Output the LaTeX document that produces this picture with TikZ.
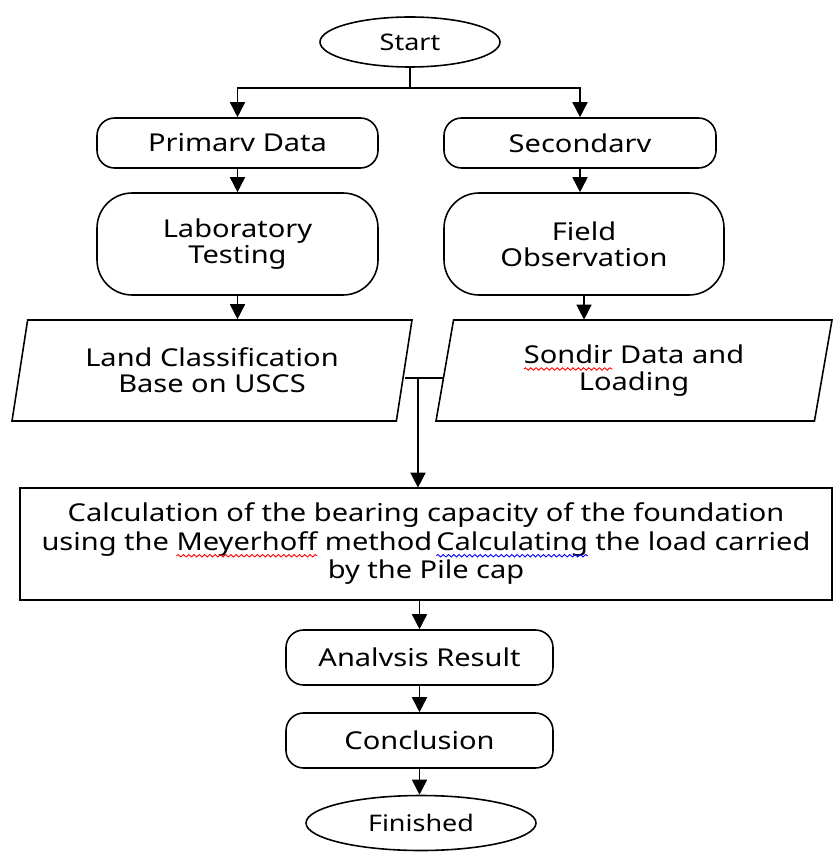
\documentclass[tikz,border=0pt]{standalone}
\usepackage{fontspec}
\setmainfont{Noto Sans}[FakeStretch=1.18]
\usetikzlibrary{shapes.geometric,arrows.meta,decorations.pathmorphing}
\newsavebox\wavybox
\newcommand\wavy[2]{\sbox\wavybox{#2}\rlap{\usebox\wavybox}\makebox[\wd\wavybox][l]{\raisebox{-3pt}{\tikz[overlay]\draw[#1,line width=0.5pt,decorate,decoration={snake,amplitude=0.7pt,segment length=3pt}] (0,0) -- (\wd\wavybox,0);}}}
\begin{document}
\begin{tikzpicture}[line width=0.9pt,>={Triangle[length=0.3cm,width=0.3cm]}]

\tikzstyle{myoval} = [draw,ellipse,inner sep=0,font=\fontsize{13}{15}\selectfont]
\tikzstyle{myround} = [draw,rounded corners=10,inner sep=2,align=center,font=\fontsize{14}{15}\selectfont]
\tikzstyle{mydata} = [draw,trapezium,trapezium left angle=71,trapezium right angle=109,trapezium stretches body,inner sep=0,align=center,font=\fontsize{14}{15}\selectfont]
\tikzstyle{mybox} = [draw,inner sep=2,align=center,font=\fontsize{14}{16.2}\selectfont]

\useasboundingbox (0,0) rectangle (16.68,-17.04);

\node [myoval,minimum width=3.6cm,minimum height=1.0cm] (start) at (8.2,-0.84) {Start};

\node [myround,minimum width=5.62cm,minimum height=1.0cm] (prim) at (4.75,-2.86) {Primarv Data};
\node [myround,minimum width=5.44cm,minimum height=1.0cm] (sec) at (11.6,-2.86) {Secondarv};

\node [myround,rounded corners=20,minimum width=5.62cm,minimum height=2.04cm] (lab) at (4.75,-4.88) {Laboratory\\Testing};
\node [myround,rounded corners=20,minimum width=5.6cm,minimum height=2.04cm] (field) at (11.68,-4.88) {Field\\Observation};

\node [mydata,minimum width=8.0cm,minimum height=2.02cm] (land) at (4.24,-7.41) {Land Classification\\Base on USCS};
\node [mydata,minimum width=7.92cm,minimum height=2.02cm] (sond) at (12.68,-7.41) {\wavy{red}{Sondir} Data and\\Loading};

\node [mybox,minimum width=16.24cm,minimum height=2.24cm] (calc) at (8.52,-10.88) {Calculation of the bearing capacity of the foundation\\using the \wavy{red}{Meyerhoff} method\,\wavy{blue}{Calculating} the load carried\\by the Pile cap};

\node [myround,minimum width=5.34cm,minimum height=1.1cm] (ana) at (8.39,-13.15) {Analvsis Result};
\node [myround,minimum width=5.34cm,minimum height=1.1cm] (conc) at (8.39,-14.81) {Conclusion};

\node [myoval,minimum width=4.6cm,minimum height=1.1cm] (fin) at (8.42,-16.46) {Finished};

\coordinate (br) at (8.2,-1.76);
\coordinate (j) at (8.36,-7.56);

\draw (start) -- (br);
\draw [->] (br) -| (prim);
\draw [->] (br) -| (sec);
\draw [->] (prim) -- (lab);
\draw [->] (sec) -- (sec |- lab.north);
\draw [->] (lab) -- (lab |- land.north);
\draw [->] (field) -- (field |- sond.north);
\draw (j -| land.east) -- (j -| sond.west);
\draw [->] (j) -- (j |- calc.north);
\draw [->] (calc.south -| ana) -- (ana);
\draw [->] (ana) -- (conc);
\draw [->] (conc) -- (conc |- fin.north);
\end{tikzpicture}
\end{document}
